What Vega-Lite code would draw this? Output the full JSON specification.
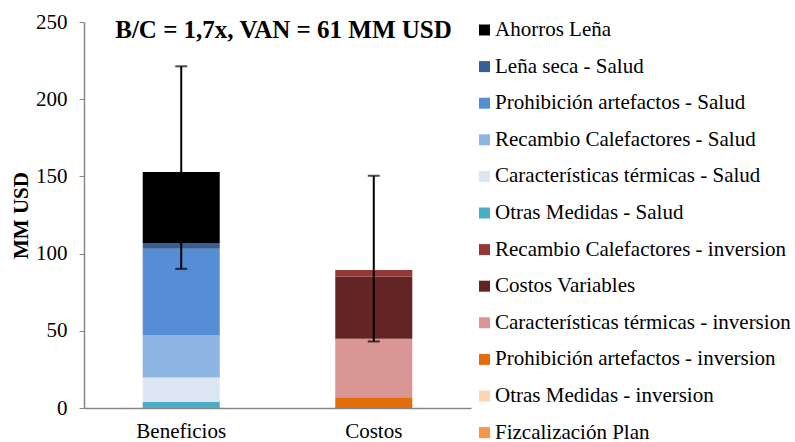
{
  "$schema": "https://vega.github.io/schema/vega-lite/v6.json",
  "autosize": {"type": "none"},
  "padding": {"left": 84, "top": 22, "right": 324, "bottom": 34},
  "width": 387,
  "height": 386,
  "background": "white",
  "title": {
    "text": "B/C = 1,7x, VAN = 61 MM USD",
    "font": "Liberation Serif",
    "fontSize": 25,
    "fontWeight": "bold",
    "color": "black",
    "anchor": "middle",
    "frame": "group",
    "baseline": "alphabetic",
    "offset": 0,
    "dy": 52,
    "dx": 6
  },
  "datasets": {
    "barras": [
      {"grupo": "Beneficios", "serie": "Otras Medidas - Salud", "orden": 1, "valor": 4.0},
      {"grupo": "Beneficios", "serie": "Características térmicas - Salud", "orden": 2, "valor": 15.8},
      {"grupo": "Beneficios", "serie": "Recambio Calefactores - Salud", "orden": 3, "valor": 27.2},
      {"grupo": "Beneficios", "serie": "Prohibición artefactos - Salud", "orden": 4, "valor": 56.2},
      {"grupo": "Beneficios", "serie": "Leña seca - Salud", "orden": 5, "valor": 3.7},
      {"grupo": "Beneficios", "serie": "Ahorros Leña", "orden": 6, "valor": 45.9},
      {"grupo": "Costos", "serie": "Fizcalización Plan", "orden": 7, "valor": 0},
      {"grupo": "Costos", "serie": "Otras Medidas - inversion", "orden": 8, "valor": 0},
      {"grupo": "Costos", "serie": "Prohibición artefactos - inversion", "orden": 9, "valor": 6.9},
      {"grupo": "Costos", "serie": "Características térmicas - inversion", "orden": 10, "valor": 37.9},
      {"grupo": "Costos", "serie": "Costos Variables", "orden": 11, "valor": 40.3},
      {"grupo": "Costos", "serie": "Recambio Calefactores - inversion", "orden": 12, "valor": 4.3}
    ],
    "errores": [
      {"grupo": "Beneficios", "bajo": 90.1, "alto": 221.3},
      {"grupo": "Costos", "bajo": 43.1, "alto": 150.4}
    ]
  },
  "encoding": {
    "x": {
      "field": "grupo",
      "type": "nominal",
      "sort": ["Beneficios", "Costos"],
      "scale": {"paddingInner": 0.6, "paddingOuter": 0.305},
      "axis": {
        "title": null,
        "labelAngle": 0,
        "labelFont": "Liberation Serif",
        "labelFontSize": 21,
        "labelColor": "black",
        "labelPadding": 12,
        "ticks": false,
        "domainColor": "#868686",
        "domainWidth": 1.5
      }
    }
  },
  "layer": [
    {
      "data": {"name": "barras"},
      "mark": {"type": "bar"},
      "encoding": {
        "y": {
          "field": "valor",
          "type": "quantitative",
          "stack": "zero",
          "scale": {"domain": [0, 250], "nice": false},
          "axis": {
            "title": "MM USD",
            "titleFont": "Liberation Serif",
            "titleFontSize": 21,
            "titleFontWeight": "bold",
            "titleColor": "black",
            "titlePadding": 4,
            "values": [0, 50, 100, 150, 200, 250],
            "labelFont": "Liberation Serif",
            "labelFontSize": 21,
            "labelColor": "black",
            "labelPadding": 12,
            "tickSize": 5,
            "tickColor": "#868686",
            "domainColor": "#868686",
            "domainWidth": 1.5,
            "grid": false
          }
        },
        "color": {
          "field": "serie",
          "type": "nominal",
          "scale": {
            "domain": [
              "Ahorros Leña",
              "Leña seca - Salud",
              "Prohibición artefactos - Salud",
              "Recambio Calefactores - Salud",
              "Características térmicas - Salud",
              "Otras Medidas - Salud",
              "Recambio Calefactores - inversion",
              "Costos Variables",
              "Características térmicas - inversion",
              "Prohibición artefactos - inversion",
              "Otras Medidas - inversion",
              "Fizcalización Plan"
            ],
            "range": [
              "#000000",
              "#376092",
              "#558ed5",
              "#8eb4e3",
              "#dce6f2",
              "#4bacc6",
              "#953735",
              "#632523",
              "#d99694",
              "#e46c0a",
              "#fcd5b5",
              "#f79646"
            ]
          },
          "legend": {
            "title": null,
            "orient": "none",
            "legendX": 390,
            "legendY": -2.5,
            "symbolType": "square",
            "symbolSize": 121,
            "symbolStrokeWidth": 0,
            "labelFont": "Liberation Serif",
            "labelFontSize": 21,
            "labelColor": "black",
            "labelLimit": 400,
            "labelOffset": 0,
            "rowPadding": 14.6,
            "padding": 0,
            "labelExpr": "datum.label",
            "encode": {
              "labels": {
                "update": {
                  "font": {"value": "Liberation Serif"},
                  "fontSize": {"value": 21},
                  "fill": {"value": "black"}
                }
              }
            }
          }
        },
        "order": {"field": "orden", "type": "quantitative", "sort": "ascending"}
      }
    },
    {
      "data": {"name": "errores"},
      "mark": {"type": "rule", "color": "black", "strokeWidth": 2},
      "encoding": {
        "y": {"field": "bajo", "type": "quantitative"},
        "y2": {"field": "alto"}
      }
    },
    {
      "data": {"name": "errores"},
      "mark": {"type": "tick", "color": "black", "thickness": 2, "size": 12},
      "encoding": {
        "y": {"field": "alto", "type": "quantitative"}
      }
    },
    {
      "data": {"name": "errores"},
      "mark": {"type": "tick", "color": "black", "thickness": 2, "size": 12},
      "encoding": {
        "y": {"field": "bajo", "type": "quantitative"}
      }
    }
  ],
  "config": {
    "view": {"stroke": null},
    "font": "Liberation Serif",
    "legend": {"labelFont": "Liberation Serif", "labelFontSize": 21}
  }
}
